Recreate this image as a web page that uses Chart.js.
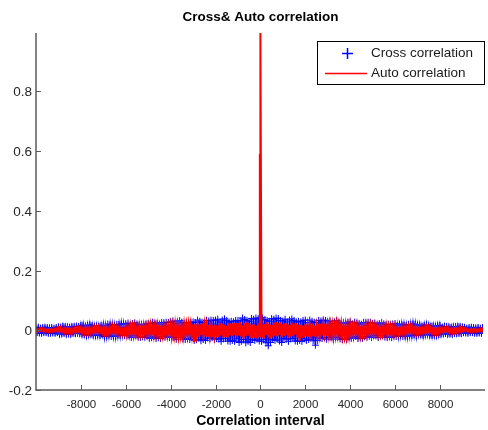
<!DOCTYPE html>
<html>
<head>
<meta charset="utf-8">
<script src="https://cdn.jsdelivr.net/npm/chart.js@4"></script>
<style>
  html, body { margin: 0; padding: 0; background: #fff; overflow: hidden; }
  canvas { display: block; }
</style>
</head>
<body>
<canvas id="corr" width="488" height="430"></canvas>
<script>
// Lag grid of the plotted samples (one sample every 50 lags, -10000..10000)
const lagStart = -10000;
const lagStep = 50;

const xTicks = [-8000, -6000, -4000, -2000, 0, 2000, 4000, 6000, 8000];
const yTicks = [-0.2, 0, 0.2, 0.4, 0.6, 0.8];

// Cross correlation
const crossValues = [
  .009, -.008, .010, -.009, .007, -.010, .009, -.008, .010, -.008, .009, -.010, .008, -.010, .009, -.009, .007, -.010, .009, -.008,
  .011, -.013, .010, -.012, .013, -.010, .012, -.013, .011, -.012, .010, -.013, .012, -.010, .012, -.011, .013, -.010, .012, -.011,
  .016, -.013, .017, -.014, .013, -.017, .016, -.014, .018, -.013, .015, -.016, .013, -.017, .014, -.016, .013, -.017, .015, -.014,
  .017, -.021, .015, -.019, .021, -.016, .018, -.021, .017, -.019, .015, -.020, .020, -.016, .019, -.017, .021, -.015, .020, -.018,
  .022, -.018, .024, -.019, .018, -.024, .022, -.019, .025, -.018, .021, -.023, .018, -.024, .020, -.022, .018, -.024, .021, -.019,
  .023, -.027, .021, -.025, .027, -.021, .024, -.028, .022, -.025, .020, -.027, .026, -.021, .025, -.023, .027, -.020, .026, -.024,
  .028, -.023, .031, -.025, .023, -.030, .028, -.024, .032, -.023, .027, -.029, .023, -.031, .025, -.028, .023, -.031, .027, -.024,
  .028, -.034, .026, -.031, .034, -.026, .030, -.035, .027, -.031, .025, -.034, .033, -.026, .031, -.028, .034, -.025, .033, -.030,
  .034, -.028, .037, -.030, .028, -.037, .034, -.029, .038, -.028, .033, -.036, .028, -.037, .030, -.034, .028, -.037, .033, -.029,
  .033, -.041, .031, -.037, .041, -.031, .036, -.042, .033, -.037, .030, -.041, .039, -.031, .037, -.034, .041, -.030, .039, -.036,
  .042,
  -.037, .041, -.031, .036, -.042, .033, -.052, .030, -.041, .039, -.031, .037, -.034, .041, -.030, .039, -.036, .033, -.041, .031,
  -.028, .037, -.030, .028, -.037, .034, -.029, .038, -.028, .033, -.036, .028, -.037, .030, -.034, .028, -.037, .033, -.029, .034,
  -.034, .026, -.031, .034, -.026, .030, -.035, .027, -.050, .025, -.034, .033, -.026, .031, -.028, .034, -.025, .033, -.030, .028,
  -.023, .031, -.025, .023, -.030, .028, -.024, .032, -.023, .027, -.029, .023, -.031, .025, -.028, .023, -.031, .027, -.024, .028,
  -.027, .021, -.025, .027, -.021, .024, -.028, .022, -.025, .020, -.027, .026, -.021, .025, -.023, .027, -.020, .026, -.024, .023,
  -.018, .024, -.019, .018, -.024, .022, -.019, .025, -.018, .021, -.023, .018, -.024, .020, -.022, .018, -.024, .021, -.019, .022,
  -.021, .015, -.019, .021, -.016, .018, -.021, .017, -.019, .015, -.020, .020, -.016, .019, -.017, .021, -.015, .020, -.018, .017,
  -.013, .017, -.014, .013, -.017, .016, -.014, .018, -.013, .015, -.016, .013, -.017, .014, -.016, .013, -.017, .015, -.014, .016,
  -.013, .010, -.012, .013, -.010, .012, -.013, .011, -.012, .010, -.013, .012, -.010, .012, -.011, .013, -.010, .012, -.011, .011,
  -.008, .010, -.009, .007, -.010, .009, -.008, .010, -.008, .009, -.010, .008, -.010, .009, -.009, .007, -.010, .009, -.008, .009
];

// Auto correlation (peak of 1 at lag 0)
const autoValues = [
  .004, -.005, .003, -.004, .005, -.003, .004, -.005, .004, -.004, .003, -.005, .005, -.003, .004, -.004, .005, -.003, .005, -.004,
  .007, -.005, .008, -.006, .004, -.008, .007, -.006, .008, -.005, .007, -.008, .005, -.008, .006, -.007, .005, -.008, .007, -.006,
  .008, -.010, .007, -.009, .010, -.007, .009, -.010, .008, -.009, .006, -.010, .009, -.007, .009, -.008, .010, -.007, .009, -.008,
  .011, -.008, .012, -.009, .007, -.012, .011, -.009, .013, -.008, .010, -.012, .008, -.012, .009, -.011, .007, -.012, .010, -.009,
  .012, -.015, .010, -.014, .015, -.011, .013, -.016, .012, -.014, .009, -.015, .015, -.011, .014, -.012, .016, -.010, .015, -.013,
  .015, -.012, .017, -.013, .010, -.017, .015, -.012, .018, -.011, .014, -.016, .012, -.017, .013, -.015, .010, -.017, .014, -.013,
  .016, -.020, .013, -.018, .020, -.014, .017, -.020, .015, -.018, .012, -.020, .019, -.014, .018, -.016, .020, -.013, .019, -.017,
  .020, -.040, .022, -.017, .013, -.022, .020, -.016, .023, -.014, .019, -.021, .015, -.022, .017, -.020, .013, -.022, .019, -.017,
  .019, -.024, .016, -.022, .025, -.017, .021, -.025, .019, -.022, .015, -.024, .023, -.017, .022, -.020, .025, -.016, .024, -.021,
  .024, -.018, .027, -.021, .016, -.027, .024, -.020, .028, -.017, .023, -.026, .018, -.027, .021, -.024, .016, -.027, .023, -.020,
  1.0,
  -.024, .018, -.027, .021, -.016, .027, -.024, .020, -.028, .017, -.023, .026, -.018, .027, -.021, .024, -.016, .027, -.023, .020,
  -.019, .024, -.016, .022, -.025, .017, -.021, .025, -.019, .022, -.015, .024, -.023, .017, -.036, .020, -.025, .016, -.024, .021,
  -.020, .015, -.022, .017, -.013, .022, -.020, .016, -.023, .014, -.019, .021, -.015, .022, -.017, .020, -.013, .022, -.019, .017,
  -.016, .020, -.013, .018, -.020, .014, -.017, .020, -.015, .018, -.012, .020, -.019, .014, -.018, .016, -.020, .013, -.019, .017,
  -.015, .012, -.017, .013, -.010, .017, -.015, .012, -.018, .011, -.014, .016, -.012, .017, -.013, .015, -.010, .017, -.014, .013,
  -.012, .015, -.010, .014, -.015, .011, -.013, .016, -.012, .014, -.009, .015, -.015, .011, -.014, .012, -.016, .010, -.015, .013,
  -.011, .008, -.012, .009, -.007, .012, -.011, .009, -.013, .008, -.010, .012, -.008, .012, -.009, .011, -.007, .012, -.010, .009,
  -.008, .010, -.007, .009, -.010, .007, -.009, .010, -.008, .009, -.006, .010, -.009, .007, -.009, .008, -.010, .007, -.009, .008,
  -.007, .005, -.008, .006, -.004, .008, -.007, .006, -.008, .005, -.007, .008, -.005, .008, -.006, .007, -.005, .008, -.007, .006,
  -.004, .005, -.003, .004, -.005, .003, -.004, .005, -.004, .004, -.003, .005, -.005, .003, -.004, .004, -.005, .003, -.005, .004
];

// Extra samples just left of lag 0 (the 0.59 step of the peak)
const autoPeakLags = [-25, -12];
const autoPeakValues = [0.59, -0.01];

const CROSS_COLOR = '#0000ff';
const AUTO_COLOR = '#ff0000';
const FONT = '"Liberation Sans", Arial, Helvetica, sans-serif';

const crossPoints = crossValues.map((v, i) => ({ x: lagStart + i * lagStep, y: v }));
const autoPoints = autoValues.map((v, i) => ({ x: lagStart + i * lagStep, y: v }));
autoPeakLags.forEach((lag, i) => autoPoints.push({ x: lag, y: autoPeakValues[i] }));
autoPoints.sort((a, b) => a.x - b.x);

// MATLAB-like axes: left and bottom spines, inward ticks, labels, legend
const matlabAxes = {
  id: 'matlabAxes',
  afterDatasetsDraw(chart) {
    const { ctx, chartArea: area, scales: { x, y } } = chart;
    ctx.save();
    ctx.strokeStyle = '#5a5a5a';
    ctx.lineWidth = 1.5;
    ctx.beginPath();
    ctx.moveTo(area.left, area.top);
    ctx.lineTo(area.left, area.bottom);
    ctx.lineTo(area.right + 2, area.bottom);
    ctx.stroke();

    ctx.lineWidth = 1;
    ctx.fillStyle = '#262626';
    ctx.font = '13.5px ' + FONT;
    ctx.textAlign = 'right';
    ctx.textBaseline = 'middle';
    yTicks.forEach((t) => {
      const py = Math.round(y.getPixelForValue(t)) + 0.5;
      ctx.beginPath();
      ctx.moveTo(area.left, py);
      ctx.lineTo(area.left + 5, py);
      ctx.stroke();
      ctx.fillText(String(Math.round(t * 10) / 10), area.left - 4, py + 1);
    });
    ctx.font = '11.5px ' + FONT;
    ctx.textAlign = 'center';
    ctx.textBaseline = 'middle';
    xTicks.forEach((t) => {
      const px = Math.round(x.getPixelForValue(t)) + 0.5;
      ctx.beginPath();
      ctx.moveTo(px, area.bottom);
      ctx.lineTo(px, area.bottom - 5);
      ctx.stroke();
      ctx.fillText(String(t), px, area.bottom + 15);
    });

    const midX = x.getPixelForValue(0);
    ctx.fillStyle = '#000';
    ctx.font = 'bold 13.5px ' + FONT;
    ctx.fillText('Cross& Auto correlation', midX, 17);
    ctx.font = 'bold 14px ' + FONT;
    ctx.fillText('Correlation interval', midX, 421);
    ctx.restore();
  },
  afterDraw(chart) {
    const { ctx } = chart;
    const [cross, auto] = chart.data.datasets;
    ctx.save();
    ctx.fillStyle = '#fff';
    ctx.fillRect(317, 41, 167, 43);
    ctx.strokeStyle = '#000';
    ctx.lineWidth = 1;
    ctx.strokeRect(317.5, 41.5, 167, 43);

    ctx.lineWidth = 1.5;
    ctx.strokeStyle = CROSS_COLOR;
    ctx.beginPath();
    ctx.moveTo(342, 53.5);
    ctx.lineTo(353, 53.5);
    ctx.moveTo(347.5, 48);
    ctx.lineTo(347.5, 59);
    ctx.stroke();

    ctx.strokeStyle = AUTO_COLOR;
    ctx.beginPath();
    ctx.moveTo(325, 73.5);
    ctx.lineTo(367, 73.5);
    ctx.stroke();

    ctx.fillStyle = '#1a1a1a';
    ctx.font = '13.5px ' + FONT;
    ctx.textAlign = 'left';
    ctx.textBaseline = 'middle';
    ctx.fillText(cross.label, 371, 53);
    ctx.fillText(auto.label, 371, 73);
    ctx.restore();
  },
};

new Chart(document.getElementById('corr'), {
  type: 'scatter',
  data: {
    datasets: [
      {
        label: 'Cross correlation',
        data: crossPoints,
        showLine: true,
        borderColor: CROSS_COLOR,
        backgroundColor: CROSS_COLOR,
        borderWidth: 1.5,
        pointStyle: 'cross',
        pointRadius: 3.5,
        pointBorderWidth: 1,
        pointBorderColor: CROSS_COLOR,
        order: 2,
      },
      {
        label: 'Auto correlation',
        data: autoPoints,
        showLine: true,
        borderColor: AUTO_COLOR,
        backgroundColor: AUTO_COLOR,
        borderWidth: 2,
        pointRadius: 0,
        order: 1,
      },
    ],
  },
  options: {
    responsive: false,
    animation: false,
    devicePixelRatio: 1,
    layout: { padding: { left: 36, top: 33, right: 0, bottom: 40 } },
    plugins: {
      legend: { display: false },
      tooltip: { enabled: false },
    },
    scales: {
      x: { type: 'linear', min: -10000, max: 9920, display: false },
      y: { type: 'linear', min: -0.2, max: 0.995, display: false },
    },
  },
  plugins: [matlabAxes],
});
</script>
</body>
</html>
